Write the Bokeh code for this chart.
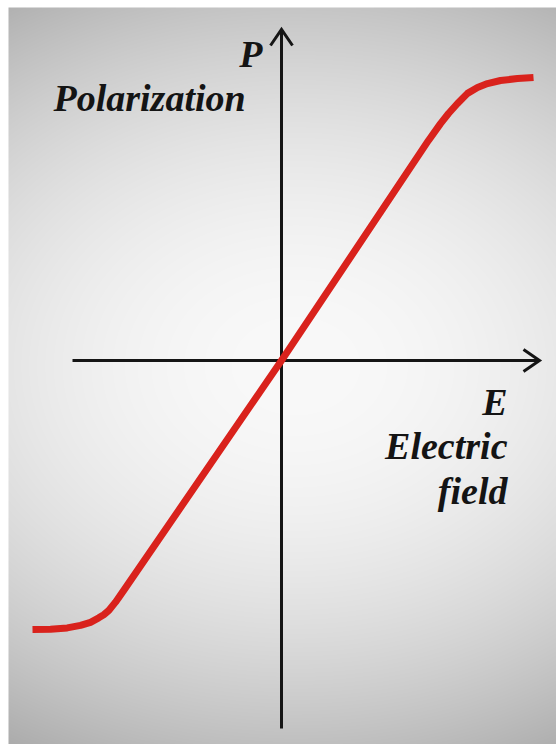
import numpy as np
from bokeh.plotting import figure
from bokeh.models import Range1d
from bokeh.core.properties import value
from bokeh.embed import file_html
from bokeh.resources import INLINE

# Polarization curve P(E) of a dielectric that saturates at high field
field_E = [-0.996, -0.924, -0.857, -0.804, -0.764, -0.731, -0.711, -0.691,
           -0.664, -0.631, 0.0,
           0.588, 0.636, 0.668, 0.704, 0.744, 0.784, 0.824, 0.876, 0.944, 1.008]
polar_P = [-0.961, -0.960, -0.955, -0.946, -0.935, -0.919, -0.908, -0.893,
           -0.863, -0.821, 0.0,
           0.786, 0.846, 0.882, 0.918, 0.954, 0.975, 0.989, 1.0, 1.007, 1.011]

# Axis labels
p_symbol = "P"
p_name = "Polarization"
e_symbol = "E"
e_name = ["Electric", "field"]

W, H = 556, 744
OX, OY = 281, 360          # origin position in the page (px)
SX, SY = 250.0, 280.0      # px per unit of E and P


def dx(px):
    return (px - OX) / SX


def dy(py):
    return (OY - py) / SY


p = figure(width=W, height=H, output_backend="svg", toolbar_location=None,
           x_axis_type=None, y_axis_type=None, min_border=0,
           x_range=Range1d(dx(0), dx(W)), y_range=Range1d(dy(H), dy(0)))
p.outline_line_color = None
p.grid.visible = False
p.background_fill_color = "white"
p.border_fill_color = "white"

# soft grey backdrop, lighter toward the middle
gx0, gy0 = 8, 7
gw, gh = W - gx0, H - gy0
xs = np.arange(gw) + gx0
ys = np.arange(gh)[::-1] + gy0           # row 0 is at the bottom
XX, YY = np.meshgrid(xs, ys)
v = 249 - 53 * ((YY - 365) / 363.0) ** 2 - 20 * ((XX - 295) / 290.0) ** 2
v = np.clip(v, 0, 255).astype(np.uint8)
img = np.empty((gh, gw), dtype=np.uint32)
view = img.view(dtype=np.uint8).reshape((gh, gw, 4))
view[:, :, 0] = v
view[:, :, 1] = v
view[:, :, 2] = v
view[:, :, 3] = 255
p.image_rgba(image=[img], x=dx(gx0), y=dy(H), dw=gw / SX, dh=gh / SY)

# axes with open arrow heads
ax_col = "#151515"
ax_w = 3
x_left, x_tip = dx(72), dx(539)
y_bot, y_tip = dy(728), dy(29)
p.segment(x0=[x_left, 0], y0=[0, y_bot], x1=[x_tip, 0], y1=[0, y_tip],
          line_color=ax_col, line_width=ax_w)
hl, hw = 16, 11  # head length / half width in px
p.multi_line(
    xs=[[x_tip - hl / SX, x_tip, x_tip - hl / SX], [-hw / SX, 0, hw / SX]],
    ys=[[hw / SY, 0, -hw / SY], [y_tip - hl / SY, y_tip, y_tip - hl / SY]],
    line_color=ax_col, line_width=ax_w, line_join="miter")

# the curve
p.line(field_E, polar_P, line_color="#d9221c", line_width=7,
       line_join="round", line_cap="butt")

# labels
def label(x, y, text, align):
    p.text(x=x, y=y, text=text, text_align=align,
           text_font=value("Liberation Serif"), text_font_style="bold italic",
           text_color="#141414", text_font_size="38px",
           text_baseline="alphabetic")


label([dx(262)], [dy(53)], [p_symbol], "right")
label([dx(53)], [dy(97)], [p_name], "left")
label([dx(507)] * 3, [dy(401), dy(445), dy(490)], [e_symbol] + e_name, "right")

open("out.html", "w").write(file_html(p, INLINE))
